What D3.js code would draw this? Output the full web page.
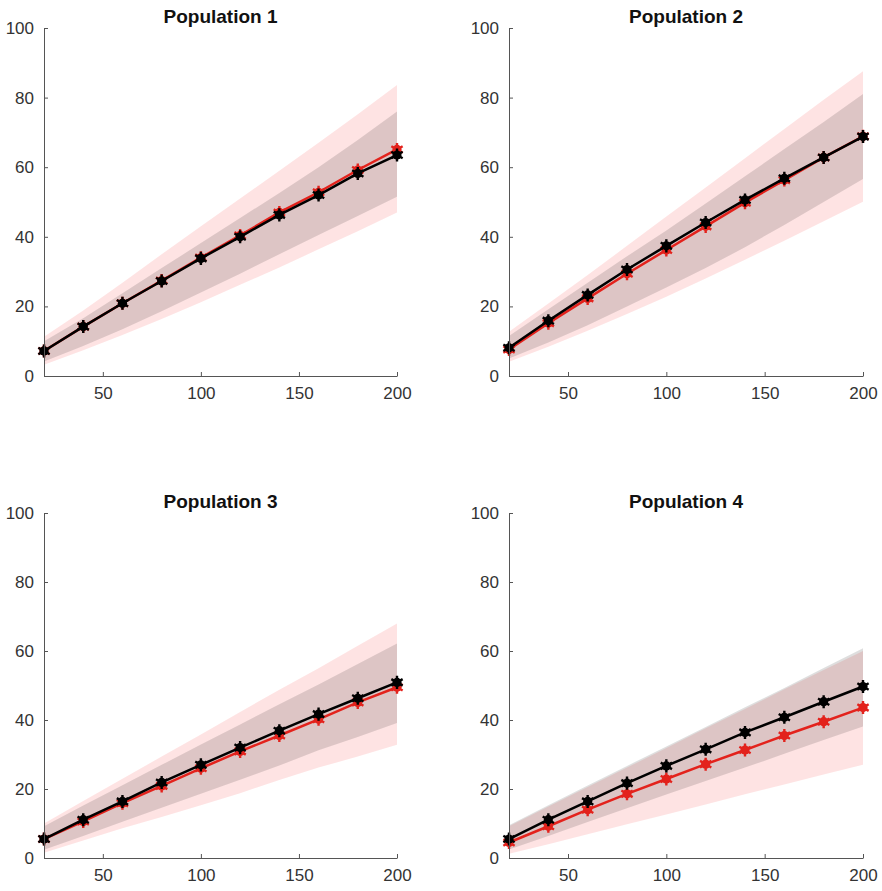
<!DOCTYPE html>
<html>
<head>
<meta charset="utf-8">
<script src="https://cdn.jsdelivr.net/npm/d3@7"></script>
<style>
  body { margin: 0; background: #fff; }
  svg { display: block; font-family: "Liberation Sans", Arial, sans-serif; }
</style>
</head>
<body>
<svg id="chart"></svg>
<script>
const xValues = [20, 40, 60, 80, 100, 120, 140, 160, 180, 200];
const titles = ['Population 1', 'Population 2', 'Population 3', 'Population 4'];
const xTicks = [50, 100, 150, 200];
const yTicks = [0, 20, 40, 60, 80, 100];

const p1Red = [7.2, 14.2, 20.9, 27.4, 34.0, 40.4, 47.0, 52.8, 59.2, 65.1];
const p1Black = [7.2, 14.2, 20.9, 27.3, 33.8, 40.0, 46.3, 52.0, 58.2, 63.5];
const p1RedLow = [3.2, 7.4, 11.8, 16.4, 21.2, 26.2, 31.2, 36.4, 41.6, 47.0];
const p1RedHigh = [11.3, 18.8, 26.8, 35.0, 43.0, 51.0, 59.0, 67.0, 75.2, 83.6];
const p1BlackLow = [4.2, 8.6, 13.4, 18.6, 24.0, 29.4, 35.0, 40.5, 46.0, 51.5];
const p1BlackHigh = [10.0, 16.6, 23.8, 31.0, 38.2, 45.4, 52.6, 60.0, 67.8, 76.0];

const p2Red = [7.6, 15.2, 22.3, 29.4, 36.2, 43.0, 49.8, 56.3, 62.8, 68.9];
const p2Black = [8.1, 15.9, 23.3, 30.6, 37.4, 44.1, 50.6, 56.8, 62.8, 68.8];
const p2RedLow = [4.1, 8.4, 13.0, 17.8, 22.8, 28.0, 33.4, 38.9, 44.5, 50.1];
const p2RedHigh = [12.7, 20.8, 29.0, 37.4, 45.8, 54.2, 62.6, 71.0, 79.4, 87.6];
const p2BlackLow = [5.0, 9.6, 14.6, 20.0, 25.4, 31.0, 37.0, 43.4, 50.0, 56.6];
const p2BlackHigh = [11.5, 19.2, 26.8, 34.4, 41.8, 49.6, 57.4, 65.2, 73.0, 81.0];

const p3Red = [5.5, 10.6, 15.9, 20.9, 26.0, 30.9, 35.5, 40.2, 45.1, 49.5];
const p3Black = [5.5, 11.1, 16.4, 21.9, 27.0, 32.0, 36.9, 41.7, 46.3, 50.9];
const p3RedLow = [1.5, 5.1, 8.6, 11.9, 15.3, 18.8, 22.6, 26.2, 29.4, 32.8];
const p3RedHigh = [10.0, 16.5, 23.0, 29.4, 35.8, 42.3, 48.8, 55.0, 61.5, 68.0];
const p3BlackLow = [2.4, 6.4, 10.5, 14.6, 18.6, 22.7, 26.8, 31.2, 35.1, 39.1];
const p3BlackHigh = [9.2, 15.2, 21.1, 27.0, 32.9, 38.7, 44.6, 50.3, 56.2, 62.2];

const p4Red = [4.5, 9.2, 14.0, 18.6, 22.9, 27.2, 31.3, 35.5, 39.5, 43.6];
const p4Black = [5.5, 11.1, 16.4, 21.7, 26.7, 31.5, 36.4, 40.8, 45.3, 49.7];
const p4RedLow = [1.2, 4.0, 6.9, 9.8, 12.6, 15.5, 18.5, 21.3, 24.2, 27.0];
const p4RedHigh = [9.2, 14.9, 20.6, 26.2, 31.9, 37.6, 43.2, 48.9, 54.5, 60.0];
const p4BlackLow = [2.5, 6.4, 10.4, 14.4, 18.4, 22.3, 26.2, 30.2, 34.2, 38.1];
const p4BlackHigh = [9.5, 15.3, 21.0, 26.7, 32.3, 38.0, 43.7, 49.3, 55.1, 60.8];

const panels = [
    { title: titles[0], red: p1Red, black: p1Black, redLo: p1RedLow, redHi: p1RedHigh, blackLo: p1BlackLow, blackHi: p1BlackHigh, x0: 44, x1: 397, y0: 376, y1: 28 },
    { title: titles[1], red: p2Red, black: p2Black, redLo: p2RedLow, redHi: p2RedHigh, blackLo: p2BlackLow, blackHi: p2BlackHigh, x0: 509, x1: 863, y0: 376, y1: 28 },
    { title: titles[2], red: p3Red, black: p3Black, redLo: p3RedLow, redHi: p3RedHigh, blackLo: p3BlackLow, blackHi: p3BlackHigh, x0: 44, x1: 397, y0: 858, y1: 513 },
    { title: titles[3], red: p4Red, black: p4Black, redLo: p4RedLow, redHi: p4RedHigh, blackLo: p4BlackLow, blackHi: p4BlackHigh, x0: 509, x1: 863, y0: 858, y1: 513 }
];

const redColor = '#e3221c';

const svg = d3.select('#chart')
    .attr('width', 882)
    .attr('height', 891);

function drawSeries(g, xs, ys, values, color) {
    const line = d3.line().x((d, i) => xs(xValues[i])).y(d => ys(d));
    g.append('path')
        .attr('d', line(values))
        .attr('fill', 'none')
        .attr('stroke', color)
        .attr('stroke-width', 2.5);

    // star marker with a filled core, like the blobby '*' in the original
    const star = d3.symbol().type(d3.symbolAsterisk).size(120);
    const m = g.selectAll(null)
        .data(values)
        .enter()
        .append('g')
        .attr('transform', (d, i) => `translate(${xs(xValues[i])},${ys(d)})`);
    m.append('circle').attr('r', 4.6).attr('fill', color);
    m.append('path').attr('d', star).attr('stroke', color).attr('stroke-width', 2.4).attr('fill', 'none');
}

panels.forEach(p => {
    const xs = d3.scaleLinear().domain([20, 200]).range([p.x0, p.x1]);
    const ys = d3.scaleLinear().domain([0, 100]).range([p.y0, p.y1]);
    const g = svg.append('g');

    const area = (lo, hi) => d3.area()
        .x((d, i) => xs(xValues[i]))
        .y0((d, i) => ys(lo[i]))
        .y1((d, i) => ys(hi[i]))(xValues);

    g.append('path').attr('d', area(p.redLo, p.redHi)).attr('fill', '#f80000').attr('fill-opacity', 0.11);
    g.append('path').attr('d', area(p.blackLo, p.blackHi)).attr('fill', '#000').attr('fill-opacity', 0.13);

    drawSeries(g, xs, ys, p.red, redColor);
    drawSeries(g, xs, ys, p.black, '#000');

    const xAxis = g.append('g')
        .attr('transform', `translate(0,${p.y0})`)
        .call(d3.axisBottom(xs).tickValues(xTicks).tickSizeInner(-4).tickSizeOuter(0).tickPadding(11));
    const yAxis = g.append('g')
        .attr('transform', `translate(${p.x0},0)`)
        .call(d3.axisLeft(ys).tickValues(yTicks).tickSizeInner(-4).tickSizeOuter(0).tickPadding(10));

    [xAxis, yAxis].forEach(a => {
        a.select('.domain').attr('stroke', '#555');
        a.selectAll('.tick line').attr('stroke', '#555');
        a.selectAll('.tick text')
            .attr('fill', '#333')
            .style('font-size', '17px')
            .style('font-family', '"Liberation Sans", Arial, sans-serif');
    });

    g.append('text')
        .attr('x', (p.x0 + p.x1) / 2)
        .attr('y', p.y1 - 5)
        .attr('text-anchor', 'middle')
        .attr('font-weight', 'bold')
        .attr('font-size', '19px')
        .attr('fill', '#111')
        .text(p.title);
});
</script>
</body>
</html>
